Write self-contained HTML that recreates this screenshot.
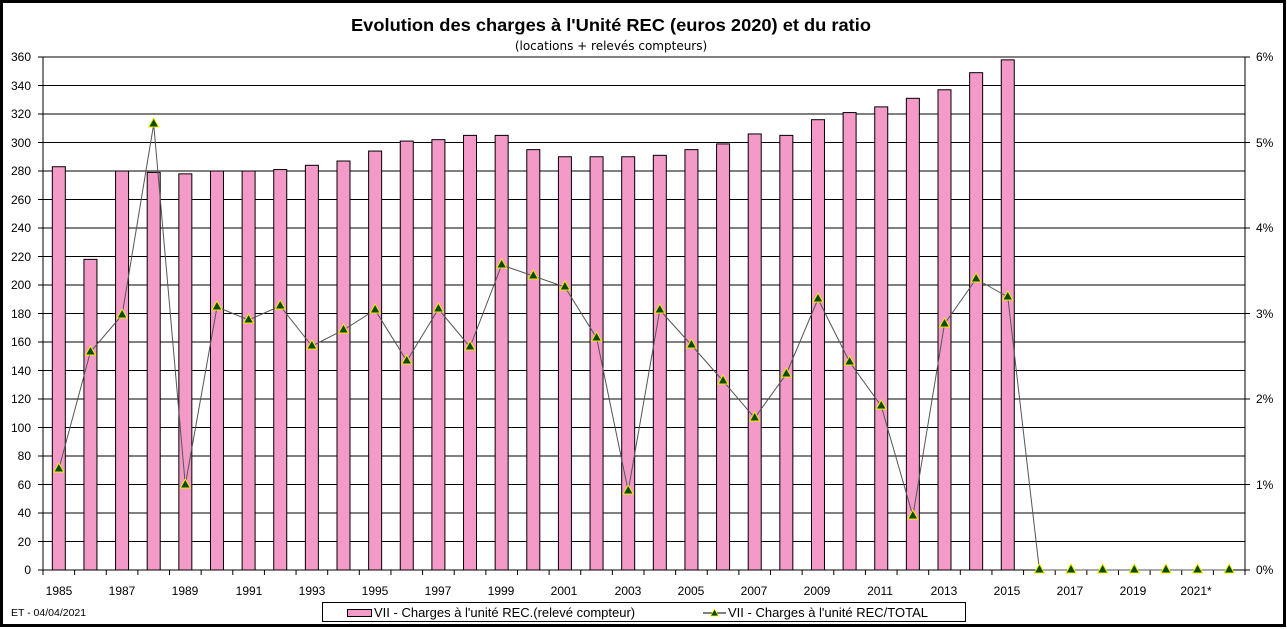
<!DOCTYPE html>
<html><head><meta charset="utf-8"><style>
html,body{margin:0;padding:0;background:#fff;}
svg{display:block;font-family:"Liberation Sans",Arial,sans-serif;}
</style></head><body>
<svg id="s" width="1287" height="629" xmlns="http://www.w3.org/2000/svg">
<rect x="1.5" y="1.5" width="1283" height="624" fill="#fff" stroke="#000" stroke-width="3"/>
<text x="611" y="31" text-anchor="middle" font-size="17.5" font-weight="bold" textLength="520" lengthAdjust="spacingAndGlyphs">Evolution des charges à l'Unité REC (euros 2020) et du ratio</text>
<text x="611" y="50" text-anchor="middle" font-size="12" font-family="'DejaVu Sans',sans-serif">(locations + relevés compteurs)</text>
<g id="grid"></g>
<g id="bars"></g>
<g id="line"></g>
<g font-size="12" text-anchor="end">
<text x="31" y="574">0</text><text x="31" y="546">20</text><text x="31" y="517">40</text><text x="31" y="489">60</text><text x="31" y="460">80</text><text x="31" y="432">100</text><text x="31" y="403">120</text><text x="31" y="375">140</text><text x="31" y="346">160</text><text x="31" y="318">180</text><text x="31" y="289">200</text><text x="31" y="261">220</text><text x="31" y="232">240</text><text x="31" y="204">260</text><text x="31" y="175">280</text><text x="31" y="147">300</text><text x="31" y="118">320</text><text x="31" y="90">340</text><text x="31" y="61">360</text>
</g>
<g font-size="12" text-anchor="start">
<text x="1256" y="574">0%</text><text x="1256" y="489">1%</text><text x="1256" y="403">2%</text><text x="1256" y="318">3%</text><text x="1256" y="232">4%</text><text x="1256" y="147">5%</text><text x="1256" y="61">6%</text>
</g>
<g font-size="12" text-anchor="middle">
<text x="59" y="595">1985</text><text x="122" y="595">1987</text><text x="185" y="595">1989</text><text x="249" y="595">1991</text><text x="312" y="595">1993</text><text x="375" y="595">1995</text><text x="438" y="595">1997</text><text x="501" y="595">1999</text><text x="564" y="595">2001</text><text x="628" y="595">2003</text><text x="691" y="595">2005</text><text x="754" y="595">2007</text><text x="817" y="595">2009</text><text x="880" y="595">2011</text><text x="944" y="595">2013</text><text x="1007" y="595">2015</text><text x="1070" y="595">2017</text><text x="1133" y="595">2019</text><text x="1196" y="595">2021*</text>
</g>
<text x="11" y="616" font-size="10.5">ET -  04/04/2021</text>
<rect x="322.5" y="602.5" width="643" height="19" fill="#fff" stroke="#000"/>
<rect x="347.5" y="609.5" width="24" height="7" fill="#f49ac9" stroke="#000"/>
<text x="374" y="617" font-size="13">VII - Charges à l'unité REC.(relevé  compteur)</text>
<line x1="703" y1="613" x2="726" y2="613" stroke="#000"/>
<polygon points="714.5,609 718.5,616 710.5,616" fill="#0a4a0a" stroke="#ff0" stroke-width="0.7"/>
<text x="728" y="617" font-size="13">VII - Charges à l'unité REC/TOTAL</text>
</svg>
<script>
var NS="http://www.w3.org/2000/svg";
function el(p,t,a){var e=document.createElementNS(NS,t);for(var k in a)e.setAttribute(k,a[k]);document.getElementById(p).appendChild(e);return e;}
var L=43,R=1245,B=570,T=57,W=(R-L)/38;
for(var i=0;i<=18;i++){var y=B-i*28.5;el("grid","line",{x1:L-5,y1:y,x2:R,y2:y,stroke:"#000","stroke-width":1});}
el("grid","line",{x1:L,y1:T,x2:L,y2:B,stroke:"#000"});
el("grid","line",{x1:R,y1:T,x2:R,y2:B,stroke:"#000"});
for(var i=0;i<=6;i++){var y=B-i*85.5;el("grid","line",{x1:R,y1:y,x2:R+5,y2:y,stroke:"#000"});}
for(var i=0;i<=38;i++){var x=L+i*W;el("grid","line",{x1:x,y1:B,x2:x,y2:B+5,stroke:"#000"});}
var v=[283,218,280,279,278,280,280,281,284,287,294,301,302,305,305,295,290,290,290,291,295,299,306,305,316,321,325,331,337,349,358];
v.forEach(function(d,i){var c=L+W*(i+0.5);var h=d*1.425;el("bars","rect",{x:c-6.5,y:B-h,width:13,height:h,fill:"#f49ac9",stroke:"#000","stroke-width":1});});
var ly=[469,352,315,124,485,307,320,306,346,330,310,361,309,347,265,276,287,338,491,310,345,381,418,374,299,362,406,516,324,279,297,570,570,570,570,570,570,570];
var pts=ly.map(function(y,i){return (L+W*(i+0.5)).toFixed(1)+","+y;}).join(" ");
el("line","polyline",{points:pts,fill:"none",stroke:"#555","stroke-width":1});
ly.forEach(function(y,i){var c=L+W*(i+0.5);el("line","polygon",{points:c+","+(y-6)+" "+(c+5)+","+(y+3)+" "+(c-5)+","+(y+3),fill:"#0a4a0a",stroke:"#ee0","stroke-width":1});});
</script>
</body></html>
